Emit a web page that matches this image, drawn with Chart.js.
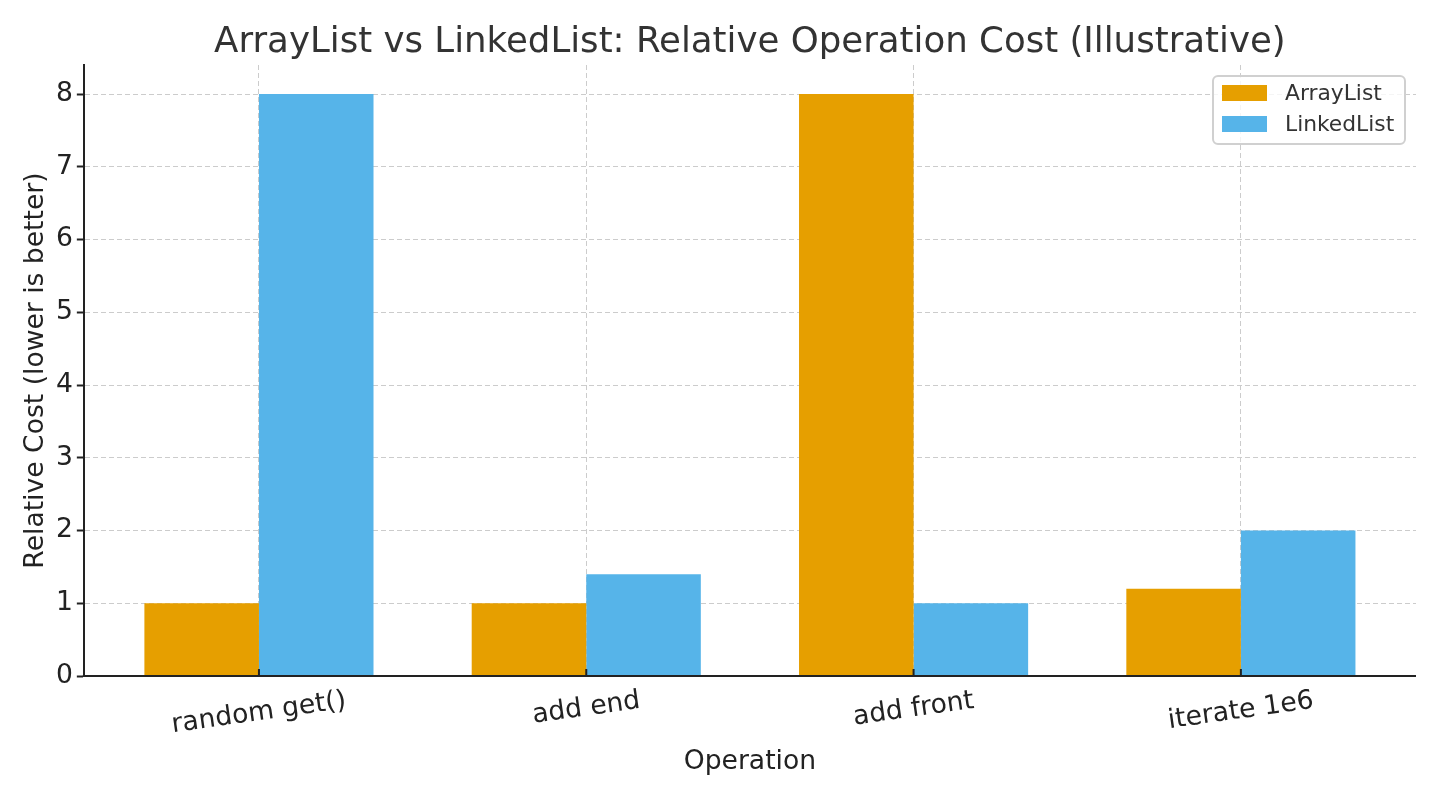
<!DOCTYPE html>
<html>
<head>
<meta charset="utf-8">
<script src="https://cdn.jsdelivr.net/npm/chart.js@4/dist/chart.umd.min.js"></script>
<style>
  html, body { margin: 0; padding: 0; background: #fff; }
  #wrap { width: 1440px; height: 800px; }
</style>
</head>
<body>
<div id="wrap"><canvas id="barChart"></canvas></div>
<script>
// Chart data
const operations = ["random get()", "add end", "add front", "iterate 1e6"];
const arrayListCost = [1, 1, 8, 1.2];
const linkedListCost = [8, 1.4, 1, 2];
const yTicks = [0, 1, 2, 3, 4, 5, 6, 7, 8];

const FONT = "'DejaVu Sans', sans-serif";
const COLORS = ["#E69F00", "#56B4E9"];
const LABEL_SIZE = 26.6;

// draws title, x labels, x axis line + inward ticks, legend (matplotlib look)
const mplExtras = {
    id: "mplExtras",
    afterDatasetsDraw(chart) {
        const { ctx, chartArea } = chart;
        const xs = chart.scales.x;
        ctx.save();
        // x axis line on top of bars
        ctx.strokeStyle = "#222";
        ctx.lineWidth = 2;
        ctx.beginPath();
        ctx.moveTo(chartArea.left - 1, chartArea.bottom);
        ctx.lineTo(chartArea.right, chartArea.bottom);
        ctx.stroke();
        operations.forEach((op, i) => {
            const px = xs.getPixelForValue(i);
            ctx.beginPath();
            ctx.moveTo(px, chartArea.bottom);
            ctx.lineTo(px, chartArea.bottom - 7);
            ctx.stroke();
        });
        ctx.restore();
    },
    afterDraw(chart) {
        const { ctx, chartArea } = chart;
        const xs = chart.scales.x;
        const midX = (chartArea.left + chartArea.right) / 2;
        ctx.save();

        // title
        ctx.fillStyle = "#333";
        ctx.font = "35.6px " + FONT;
        ctx.textAlign = "center";
        ctx.textBaseline = "alphabetic";
        ctx.fillText("ArrayList vs LinkedList: Relative Operation Cost (Illustrative)", midX, 52);

        // rotated category labels
        const ang = 8 * Math.PI / 180;
        ctx.font = LABEL_SIZE + "px " + FONT;
        ctx.fillStyle = "#222";
        ctx.textBaseline = "middle";
        operations.forEach((op, i) => {
            const w = ctx.measureText(op).width;
            const h = 30;
            const bh = w * Math.sin(ang) + h * Math.cos(ang);
            const cx = xs.getPixelForValue(i);
            const cy = chartArea.bottom + 10 + bh / 2;
            ctx.save();
            ctx.translate(cx, cy);
            ctx.rotate(-ang);
            ctx.fillText(op, 0, 0);
            ctx.restore();
        });

        // x axis title
        ctx.textBaseline = "alphabetic";
        ctx.fillText("Operation", midX, 769);

        // legend
        const lx = 1213, ly = 76, lw = 192, lh = 68;
        ctx.fillStyle = "rgba(255,255,255,0.8)";
        ctx.strokeStyle = "#d0d0d0";
        ctx.lineWidth = 2;
        ctx.beginPath();
        ctx.roundRect(lx, ly, lw, lh, 5);
        ctx.fill();
        ctx.stroke();
        const names = ["ArrayList", "LinkedList"];
        ctx.font = "21.8px " + FONT;
        ctx.textAlign = "left";
        ctx.textBaseline = "middle";
        names.forEach((n, i) => {
            const y = 85 + i * 31;
            ctx.fillStyle = COLORS[i];
            ctx.fillRect(1222, y, 45, 16);
            ctx.fillStyle = "#333";
            ctx.fillText(n, 1285, y + 9);
        });
        ctx.restore();
    }
};

window.addEventListener("DOMContentLoaded", () => {
    const el = document.getElementById("barChart");
    new Chart(el, {
        type: "bar",
        data: {
            datasets: [
                {
                    label: "ArrayList",
                    data: arrayListCost.map((v, i) => ({ x: i, y: v })),
                    backgroundColor: COLORS[0]
                },
                {
                    label: "LinkedList",
                    data: linkedListCost.map((v, i) => ({ x: i, y: v })),
                    backgroundColor: COLORS[1]
                }
            ]
        },
        options: {
            responsive: true,
            maintainAspectRatio: false,
            animation: false,
            datasets: { bar: { categoryPercentage: 0.7, barPercentage: 1.0, borderWidth: 0 } },
            layout: { padding: { left: 10, right: 24, top: 65, bottom: 124 } },
            plugins: {
                legend: { display: false },
                tooltip: { enabled: false }
            },
            scales: {
                x: {
                    type: "linear",
                    offset: false,
                    min: -0.535,
                    max: 3.535,
                    afterBuildTicks: axis => {
                        axis.ticks = operations.map((op, i) => ({ value: i }));
                    },
                    ticks: { display: false },
                    grid: { offset: false, color: "#cccccc", lineWidth: 1, drawTicks: false },
                    border: { display: false, dash: [5, 3] }
                },
                y: {
                    min: 0,
                    max: 8.4,
                    afterBuildTicks: axis => {
                        axis.ticks = yTicks.map(v => ({ value: v }));
                    },
                    ticks: {
                        color: "#222",
                        font: { family: FONT, size: LABEL_SIZE },
                        padding: 4
                    },
                    grid: {
                        color: ctx => ctx.tick && ctx.tick.value === 0 ? "rgba(0,0,0,0)" : "#cccccc",
                        lineWidth: 1,
                        tickLength: 7,
                        tickColor: "#222",
                        tickWidth: 2,
                        tickBorderDash: []
                    },
                    border: { display: true, color: "#222", width: 2, dash: [5, 3] },
                    title: {
                        display: true,
                        text: "Relative Cost (lower is better)",
                        color: "#222",
                        font: { family: FONT, size: LABEL_SIZE },
                        padding: { top: 10, bottom: 0 }
                    }
                }
            }
        },
        plugins: [mplExtras]
    });
});
</script>
</body>
</html>
